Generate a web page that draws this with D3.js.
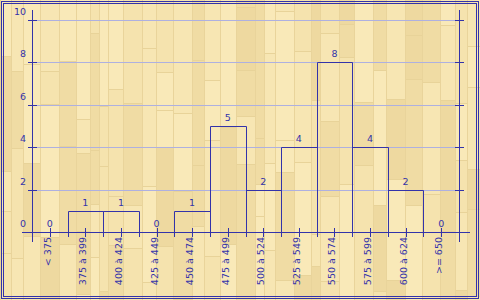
<!DOCTYPE html>
<meta charset="utf-8">
<style>
  body { margin: 0; }
  svg { display: block; }
  text { font-family: "DejaVu Sans", sans-serif; font-size: 9.5px; fill: #3333aa; }
</style>
<svg width="480" height="300"></svg>
<script src="https://cdn.jsdelivr.net/npm/d3@7"></script>
<script>

var categories = ["< 375", "375 à 399", "400 à 424", "425 à 449", "450 à 474", "475 à 499",
                  "500 à 524", "525 à 549", "550 à 574", "575 à 599", "600 à 624", ">= 650"];
var counts = [0, 1, 1, 0, 1, 5, 2, 4, 8, 4, 2, 0];
var yTicks = [0, 2, 4, 6, 8, 10];

var svg = d3.select("svg"),
    width = 480,
    height = 300,
    blue = "#3333aa";

var plotLeft = 32, plotRight = 459, plotTop = 10, axisY = 232;

var x = d3.scaleBand().domain(categories).range([plotLeft, plotRight]);
var y = d3.scaleLinear().domain([0, 10]).range([axisY, 20]);

// wood background: vertical planks of slightly different tones
var shades = ["#f9e9b8", "#f5e3ae", "#f0dca4", "#f7e6b3", "#eed9a0"];
var rnd = d3.randomLcg(11);
var wood = svg.append("g");
wood.append("rect").attr("width", width).attr("height", height).attr("fill", "#f3e0aa");
for (var px = 0; px < width; ) {
  var w = 9 + Math.floor(rnd() * 11);
  for (var py = -Math.floor(rnd() * 60); py < height; ) {
    var h = 30 + Math.floor(rnd() * 120);
    wood.append("rect")
        .attr("x", px).attr("y", py)
        .attr("width", w).attr("height", h)
        .attr("fill", shades[Math.floor(rnd() * shades.length)]);
    wood.append("line")
        .attr("x1", px).attr("x2", px + w)
        .attr("y1", py + 0.5).attr("y2", py + 0.5)
        .attr("stroke", "#e8d399").attr("stroke-width", 1);
    py += h;
  }
  wood.append("line")
      .attr("x1", px + 0.5).attr("x2", px + 0.5)
      .attr("y1", 0).attr("y2", height)
      .attr("stroke", "#e9d49b").attr("stroke-width", 1);
  px += w;
}

// double frame
svg.append("rect").attr("x", 1.5).attr("y", 1.5).attr("width", 477).attr("height", 297)
    .attr("fill", "none").attr("stroke", blue);
svg.append("rect").attr("x", 3.5).attr("y", 3.5).attr("width", 473).attr("height", 293)
    .attr("fill", "none").attr("stroke", blue);

// grid lines
svg.append("g").selectAll("line")
  .data(yTicks.filter(function(d) { return d > 0; }))
  .join("line")
    .attr("x1", plotLeft + 5).attr("x2", plotRight - 4)
    .attr("y1", function(d) { return Math.round(y(d)) + 0.5; })
    .attr("y2", function(d) { return Math.round(y(d)) + 0.5; })
    .attr("stroke", "#aeb0e0");

// bars, outline only, edges run a little under the axis
svg.append("g").selectAll("path")
  .data(categories)
  .join("path")
    .attr("d", function(d, i) {
      var x0 = Math.round(x(d)) + 0.5,
          x1 = Math.round(x(d) + x.bandwidth()) + 0.5,
          yt = Math.round(y(counts[i])) + 0.5;
      return "M" + x0 + "," + (axisY + 5) + "V" + yt + "H" + x1 + "V" + (axisY + 5);
    })
    .attr("fill", "none")
    .attr("stroke", blue);

// value labels
svg.append("g").selectAll("text")
  .data(categories)
  .join("text")
    .attr("x", function(d) { return x(d) + x.bandwidth() / 2; })
    .attr("y", function(d, i) { return Math.round(y(counts[i])) - 5; })
    .attr("text-anchor", "middle")
    .text(function(d, i) { return counts[i]; });

// x axis
svg.append("line")
    .attr("x1", plotLeft - 10).attr("x2", plotRight + 11)
    .attr("y1", axisY + 0.5).attr("y2", axisY + 0.5)
    .attr("stroke", blue);
svg.append("g").selectAll("line")
  .data(categories)
  .join("line")
    .attr("x1", function(d) { return Math.round(x(d) + x.bandwidth() / 2) + 0.5; })
    .attr("x2", function(d) { return Math.round(x(d) + x.bandwidth() / 2) + 0.5; })
    .attr("y1", axisY - 4).attr("y2", axisY + 5)
    .attr("stroke", blue);
svg.append("g").selectAll("text")
  .data(categories)
  .join("text")
    .attr("transform", function(d) {
      return "translate(" + (x(d) + x.bandwidth() / 2 + 1) + "," + (axisY + 5) + ") rotate(-90)";
    })
    .attr("text-anchor", "end")
    .text(function(d) { return d; });

// y axes, left and right
[plotLeft, plotRight].forEach(function(ax) {
  svg.append("line")
      .attr("x1", ax + 0.5).attr("x2", ax + 0.5)
      .attr("y1", plotTop).attr("y2", axisY + 10)
      .attr("stroke", blue);
  svg.append("g").selectAll("line")
    .data(yTicks)
    .join("line")
      .attr("x1", ax - 4).attr("x2", ax + 5)
      .attr("y1", function(d) { return Math.round(y(d)) + 0.5; })
      .attr("y2", function(d) { return Math.round(y(d)) + 0.5; })
      .attr("stroke", blue);
});

svg.append("g").selectAll("text")
  .data(yTicks)
  .join("text")
    .attr("x", plotLeft - 6)
    .attr("y", function(d) { return Math.round(y(d)) - 5; })
    .attr("text-anchor", "end")
    .text(function(d) { return d; });

</script>
